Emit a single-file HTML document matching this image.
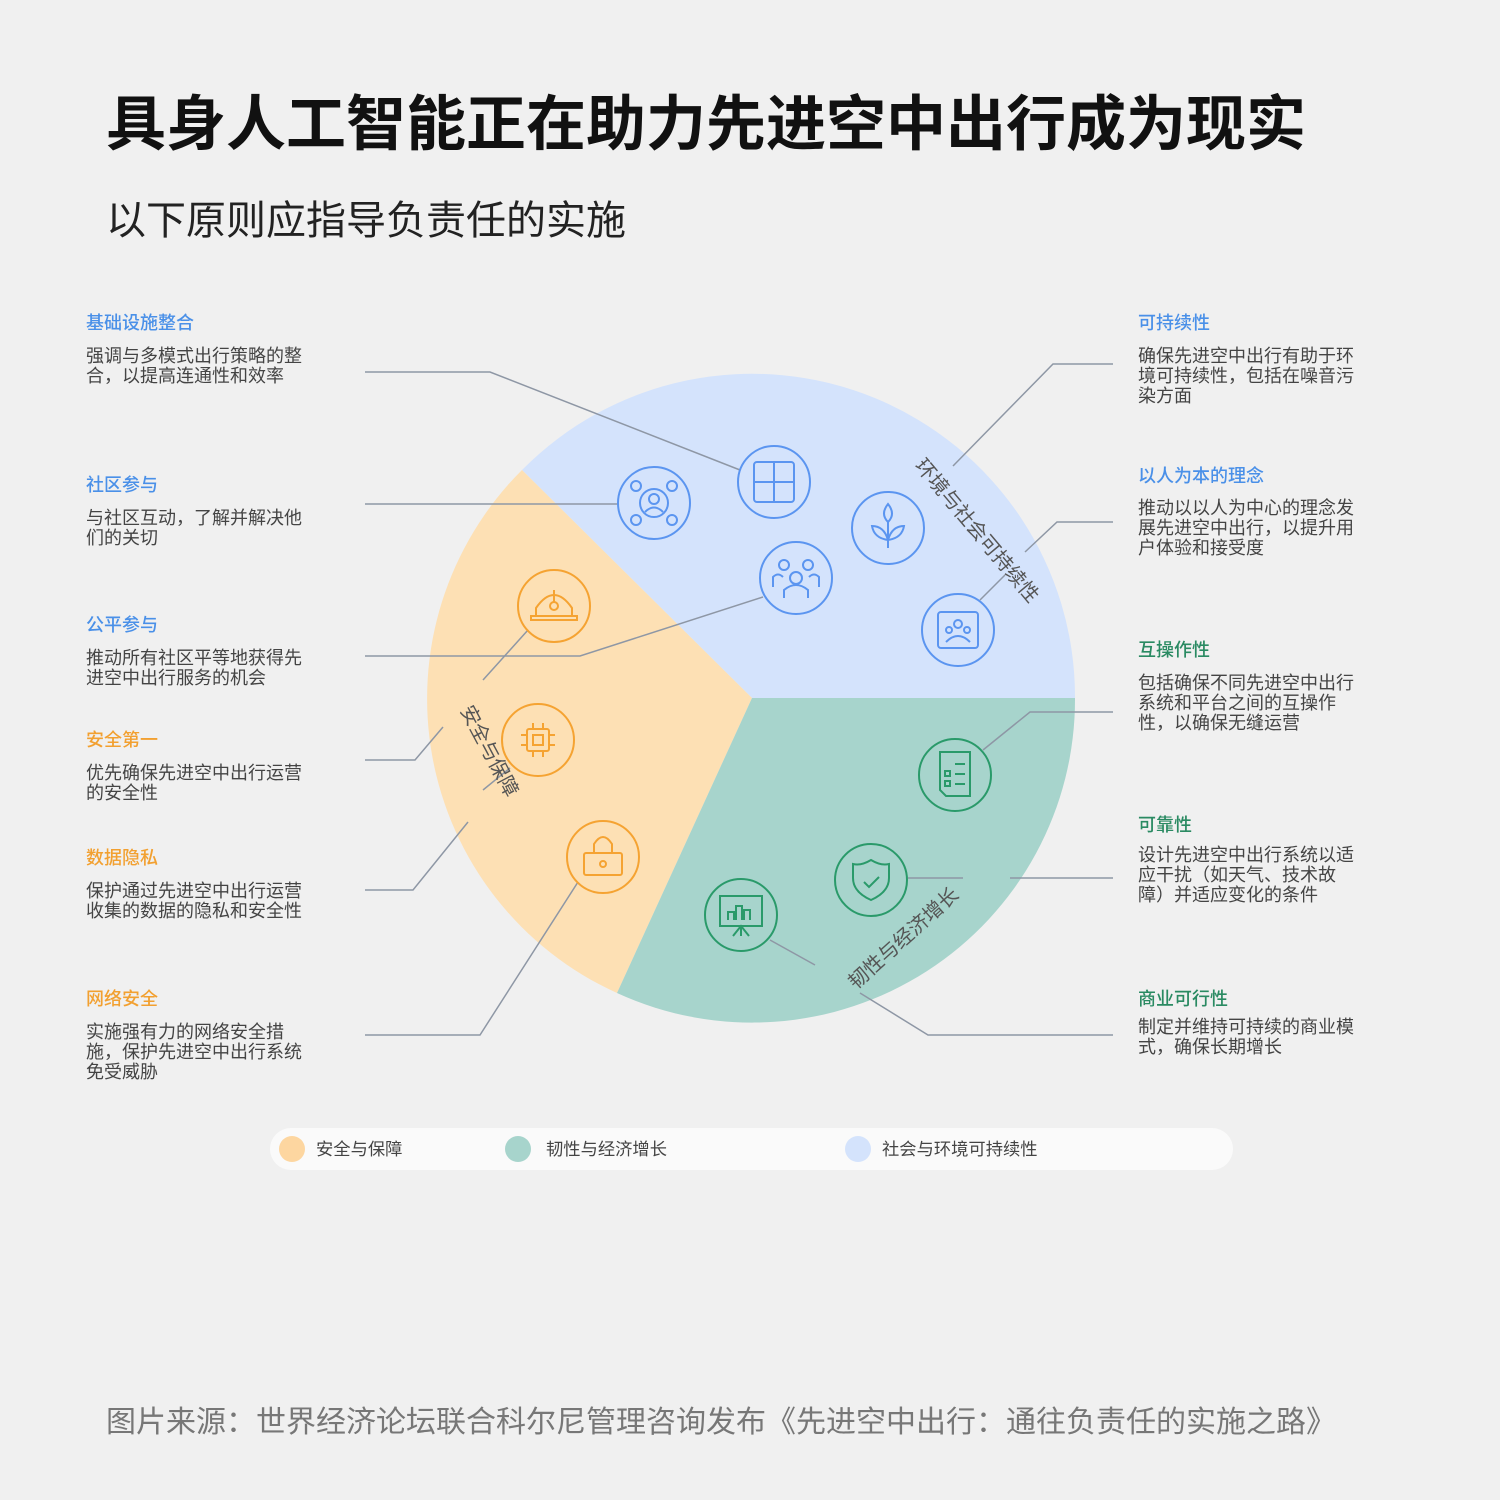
<!DOCTYPE html>
<html><head><meta charset="utf-8"><style>
body{margin:0;width:1500px;height:1500px;background:#f0f0f0;font-family:"Liberation Sans","Noto Sans CJK SC",sans-serif;overflow:hidden}
</style></head><body>
<svg width="1500" height="1500" viewBox="0 0 1500 1500" xmlns="http://www.w3.org/2000/svg" style="position:absolute;left:0;top:0;font-family:'Liberation Sans','Noto Sans CJK SC',sans-serif">
<rect width="1500" height="1500" fill="#f0f0f0"/>
<text x="106" y="145" font-size="60" font-weight="700" fill="#111">具身人工智能正在助力先进空中出行成为现实</text>
<text x="106" y="234" font-size="40" fill="#222">以下原则应指导负责任的实施</text>

<path d="M752,698 L522,470 A323,323 0 0 1 1075,698 Z" fill="#d4e3fc"/>
<path d="M752,698 L617,993 A323,323 0 0 1 522,470 Z" fill="#fde0b4"/>
<path d="M752,698 L1075,698 A323,323 0 0 1 617,993 Z" fill="#a7d4cc"/>

<g stroke="#8e97a5" stroke-width="1.5" fill="none">
<polyline points="365,372 490,372 740,470"/>
<polyline points="365,504 618,504"/>
<polyline points="365,656 580,656 763,597"/>
<polyline points="365,760 415,760 443,727"/>
<line x1="483" y1="680" x2="528" y2="630"/>
<polyline points="365,890 413,890 468,822"/>
<line x1="483" y1="790" x2="510" y2="768"/>
<polyline points="365,1035 480,1035 578,882"/>
<polyline points="1113,364 1053,364 953,466"/>
<polyline points="1113,522 1057,522 1025,552"/>
<line x1="1005" y1="575" x2="980" y2="600"/>
<polyline points="1113,712 1030,712 983,750"/>
<line x1="1010" y1="878" x2="1113" y2="878"/>
<line x1="908" y1="878" x2="963" y2="878"/>
<polyline points="1113,1035 928,1035 860,993"/>
<line x1="770" y1="940" x2="815" y2="965"/>
</g>

<g fill="none" stroke-width="2">
<g stroke="#5b95f0">
<circle cx="654" cy="503" r="36"/><circle cx="654" cy="503" r="14"/><circle cx="654" cy="499" r="5"/><path d="M645,512 q9,-9 18,0"/>
<circle cx="636" cy="486" r="5"/><circle cx="672" cy="486" r="5"/><circle cx="636" cy="520" r="5"/><circle cx="672" cy="520" r="5"/>
<circle cx="774" cy="482" r="36"/><rect x="754" y="462" width="40" height="40" rx="3"/><line x1="774" y1="462" x2="774" y2="502"/><line x1="754" y1="482" x2="794" y2="482"/>
<circle cx="888" cy="528" r="36"/><path d="M888,548 v-26 M888,522 q-8,-8 0,-18 q8,10 0,18 M888,540 q-14,-2 -16,-14 q12,0 16,14 M888,540 q14,-2 16,-14 q-12,0 -16,14"/>
<circle cx="796" cy="578" r="36"/><circle cx="784" cy="565" r="5"/><circle cx="808" cy="565" r="5"/><circle cx="796" cy="578" r="6"/><path d="M784,598 v-8 q12,-10 24,0 v8 M773,587 v-10 q5,-5 10,0 M819,587 v-10 q-5,-5 -10,0"/>
<circle cx="958" cy="630" r="36"/><rect x="938" y="612" width="40" height="36" rx="3"/><circle cx="958" cy="624" r="4"/><circle cx="949" cy="630" r="3"/><circle cx="967" cy="630" r="3"/><path d="M946,642 q12,-12 24,0"/>
</g>
<g stroke="#f5a332">
<circle cx="554" cy="606" r="36"/><path d="M536,616 v-8 q18,-26 36,0 v8 M531,616 h46 v4 h-46 Z"/><circle cx="554" cy="606" r="4"/><line x1="554" y1="590" x2="554" y2="602"/>
<circle cx="538" cy="740" r="36"/><rect x="527" y="729" width="22" height="22" rx="2"/><rect x="533" y="735" width="10" height="10"/><path d="M521,735 h6 M521,745 h6 M549,735 h6 M549,745 h6 M533,723 v6 M543,723 v6 M533,751 v6 M543,751 v6"/>
<circle cx="603" cy="857" r="36"/><rect x="584" y="853" width="38" height="22" rx="2"/><path d="M594,853 v-9 q9,-14 18,0 v9"/><circle cx="603" cy="864" r="3"/>
</g>
<g stroke="#2a9a6a">
<circle cx="955" cy="775" r="36"/><path d="M940,752 h30 v44 h-24 l-6,-6 Z"/><path d="M955,764 h10 M955,774 h10 M955,784 h10"/><rect x="945" y="771" width="5" height="5"/><rect x="945" y="781" width="5" height="5"/>
<circle cx="871" cy="880" r="36"/><path d="M871,860 q10,6 18,4 v14 q0,14 -18,22 q-18,-8 -18,-22 v-14 q8,2 18,-4 Z"/><path d="M864,882 l5,5 l10,-10"/>
<circle cx="741" cy="915" r="36"/><rect x="720" y="896" width="42" height="30"/><path d="M728,920 v-8 h6 v8 M736,920 v-14 h6 v14 M744,920 v-10 h6 v10 M741,926 v10 M733,936 l8,-10 l8,10"/>
</g>
</g>

<text font-size="20" fill="#555" transform="translate(914,466) rotate(50)">环境与社会可持续性</text>
<text font-size="20" fill="#555" transform="translate(460,710) rotate(62)">安全与保障</text>
<text font-size="20" fill="#555" transform="translate(856,990) rotate(-42)">韧性与经济增长</text>

<g font-size="18">
<g font-weight="500">
<text x="86" y="329" fill="#4a90e8">基础设施整合</text>
<text x="86" y="491" fill="#4a90e8">社区参与</text>
<text x="86" y="631" fill="#4a90e8">公平参与</text>
<text x="86" y="746" fill="#f2a030">安全第一</text>
<text x="86" y="864" fill="#f2a030">数据隐私</text>
<text x="86" y="1005" fill="#f2a030">网络安全</text>
<text x="1138" y="329" fill="#4a90e8">可持续性</text>
<text x="1138" y="482" fill="#4a90e8">以人为本的理念</text>
<text x="1138" y="656" fill="#2a8a62">互操作性</text>
<text x="1138" y="831" fill="#2a8a62">可靠性</text>
<text x="1138" y="1005" fill="#2a8a62">商业可行性</text>
</g>
<text x="86" y="362" fill="#444">强调与多模式出行策略的整</text><text x="86" y="382" fill="#444">合，以提高连通性和效率</text>
<text x="86" y="524" fill="#444">与社区互动，了解并解决他</text><text x="86" y="544" fill="#444">们的关切</text>
<text x="86" y="664" fill="#444">推动所有社区平等地获得先</text><text x="86" y="684" fill="#444">进空中出行服务的机会</text>
<text x="86" y="779" fill="#444">优先确保先进空中出行运营</text><text x="86" y="799" fill="#444">的安全性</text>
<text x="86" y="897" fill="#444">保护通过先进空中出行运营</text><text x="86" y="917" fill="#444">收集的数据的隐私和安全性</text>
<text x="86" y="1038" fill="#444">实施强有力的网络安全措</text><text x="86" y="1058" fill="#444">施，保护先进空中出行系统</text><text x="86" y="1078" fill="#444">免受威胁</text>

<text x="1138" y="362" fill="#444">确保先进空中出行有助于环</text><text x="1138" y="382" fill="#444">境可持续性，包括在噪音污</text><text x="1138" y="402" fill="#444">染方面</text>
<text x="1138" y="514" fill="#444">推动以以人为中心的理念发</text><text x="1138" y="534" fill="#444">展先进空中出行，以提升用</text><text x="1138" y="554" fill="#444">户体验和接受度</text>
<text x="1138" y="689" fill="#444">包括确保不同先进空中出行</text><text x="1138" y="709" fill="#444">系统和平台之间的互操作</text><text x="1138" y="729" fill="#444">性，以确保无缝运营</text>
<text x="1138" y="861" fill="#444">设计先进空中出行系统以适</text><text x="1138" y="881" fill="#444">应干扰（如天气、技术故</text><text x="1138" y="901" fill="#444">障）并适应变化的条件</text>
<text x="1138" y="1033" fill="#444">制定并维持可持续的商业模</text><text x="1138" y="1053" fill="#444">式，确保长期增长</text>
</g>

<rect x="270" y="1128" width="963" height="42" rx="21" fill="#fafafa"/>
<circle cx="292" cy="1149" r="13" fill="#fdd6a0"/>
<text x="316" y="1155" font-size="17.3" fill="#444">安全与保障</text>
<circle cx="518" cy="1149" r="13" fill="#a7d4cc"/>
<text x="546" y="1155" font-size="17.3" fill="#444">韧性与经济增长</text>
<circle cx="858" cy="1149" r="13" fill="#d4e3fc"/>
<text x="882" y="1155" font-size="17.3" fill="#444">社会与环境可持续性</text>

<text x="106" y="1432" font-size="30" fill="#777">图片来源：世界经济论坛联合科尔尼管理咨询发布《先进空中出行：通往负责任的实施之路》</text>
</svg>
</body></html>
